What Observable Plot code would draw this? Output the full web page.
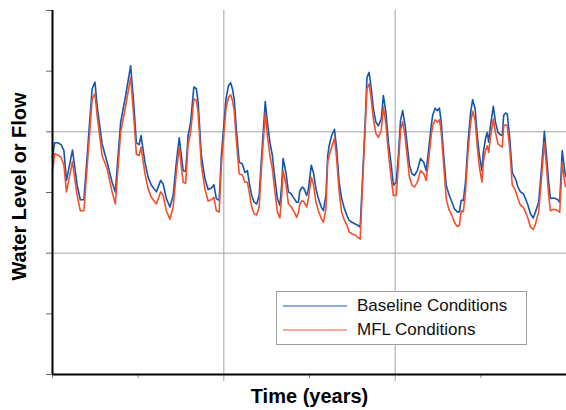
<!DOCTYPE html>
<html>
<head>
<meta charset="utf-8">
<script src="https://cdn.jsdelivr.net/npm/d3@7"></script>
<script src="https://cdn.jsdelivr.net/npm/@observablehq/plot@0.6"></script>
<style>
  html, body { margin: 0; padding: 0; background: #fff; }
  #wrap { position: relative; width: 566px; height: 410px; font-family: "Liberation Sans", Arial, Helvetica, sans-serif; }
  #legend { position: absolute; left: 276px; top: 291px; width: 251px; height: 54px; border: 1px solid #a0a0a0; background: #fff; box-sizing: border-box; }
  .row { position: absolute; left: 0; height: 22px; display: flex; align-items: center; font-size: 17px; color: #111; }
  .row svg { margin-left: 6px; margin-right: 10px; }
</style>
</head>
<body>
<div id="wrap"></div>
<script>
// Time (months since start) of each sampled point
const month = [0,0.6,1.5,2.4,3.2,3.9,5.6,6.9,7.8,8.8,
  11.1,11.9,12.5,13.9,15.3,16.7,17.6,19.1,20.5,21.9,
  22.8,23.5,24.3,24.8,25.9,26.8,27.7,29.1,30.3,31.0,
  31.9,32.9,33.8,34.7,35.5,36.1,36.6,37.3,38.0,38.7,
  39.6,40.3,40.8,41.7,42.7,43.6,44.5,45.2,45.9,46.7,
  47.3,48.6,49.3,49.9,50.4,50.9,51.5,52.3,53.2,53.9,
  54.6,55.1,55.8,56.5,57.2,57.9,58.6,59.6,60.2,60.9,
  61.6,62.1,63.0,63.7,64.2,64.6,65.4,66.1,66.8,67.7,
  68.4,68.9,69.3,70.0,70.5,71.2,71.7,72.5,73.1,73.8,
  74.5,75.3,75.9,76.6,77.1,77.5,78.2,79.0,79.6,80.3,
  81.0,81.8,82.5,83.1,83.9,84.8,85.5,86.2,86.8,87.6,
  88.1,88.7,89.3,89.9,90.6,91.3,92.1,92.7,93.4,94.1,
  94.9,95.5,96.3,96.9,97.5,98.1,98.8,99.4,100.0,100.7,
  101.4,102.2,103.1,104.0,104.7,105.3,106.1,106.5,107.2,107.8,
  108.4,108.9,109.6,110.3,111.0,111.9,112.6,113.4,114.0,114.5,
  115.1,115.7,116.4,117.1,117.7,118.4,119.0,119.6,120.3,120.7,
  121.3,121.8,122.2,122.7,123.5,124.1,124.8,125.5,126.0,126.4,
  126.9,127.4,128.1,128.8,129.2,129.7,130.4,131.1,131.9,132.5,
  133.2,133.9,134.7,135.3,136.2,136.9,137.5,137.8,138.4,139.0,
  139.5,140.3,140.9,141.6,142.1,142.8,143.3,143.7,144.0];

// Baseline Conditions
const baseline = [35.8,38.2,38.2,37.9,36.9,32.0,37.0,31.2,28.8,28.8,
  47.1,48.2,44.3,38.0,35.0,31.7,30.1,41.6,46.0,50.9,
  44.3,38.2,37.9,39.4,35.0,32.5,31.2,30.1,32.0,31.4,
  29.0,27.6,29.5,35.0,39.0,36.1,33.6,33.5,39.4,41.6,
  47.4,47.1,44.9,36.1,32.3,30.5,30.7,31.3,29.0,28.7,
  36.1,45.4,47.6,48.1,47.1,45.4,40.5,35.0,34.7,33.3,
  33.6,31.7,29.5,28.4,28.1,29.5,36.1,45.0,41.6,38.3,
  36.1,33.3,29.0,27.9,31.2,35.6,33.3,30.1,29.8,29.0,
  28.4,28.4,30.3,30.9,30.6,29.5,30.6,34.5,33.3,30.6,
  29.0,27.6,27.0,29.5,36.1,37.7,39.4,40.4,37.2,31.7,
  29.0,27.3,26.2,25.4,25.1,24.8,24.6,24.3,31.7,41.6,
  49.0,49.8,47.1,43.8,41.6,41.0,42.1,46.0,43.2,38.3,
  34.5,31.2,31.7,36.1,41.9,43.5,41.0,37.7,34.5,33.1,
  32.8,33.6,35.6,35.0,33.6,36.6,41.0,42.7,43.9,43.5,
  43.9,41.6,36.1,31.2,29.8,28.4,27.3,26.8,26.8,28.7,
  28.7,31.7,38.3,43.0,45.3,43.8,39.4,36.1,33.6,36.6,
  38.9,39.9,38.3,41.0,44.2,41.6,39.9,39.5,39.4,42.7,
  43.1,43.0,38.9,33.3,32.8,32.3,30.9,30.1,29.8,29.0,
  27.9,26.5,25.8,26.8,28.4,33.3,37.7,40.1,36.1,31.7,
  29.0,29.1,29.0,28.8,28.4,36.9,34.5,32.8,32.5];

// MFL Conditions
const mfl = [33.6,36.4,36.2,35.8,34.5,30.1,35.1,29.5,27.0,27.0,
  45.4,46.3,42.7,36.1,33.9,30.1,28.1,39.9,44.3,49.0,
  42.2,36.3,36.1,37.5,33.1,30.6,29.2,28.1,30.1,29.5,
  27.0,25.6,27.6,33.3,37.5,34.2,31.7,31.5,38.0,39.9,
  45.4,45.2,43.2,34.5,30.6,28.6,28.8,29.2,27.0,26.8,
  34.5,43.8,45.7,46.1,45.2,43.5,38.6,33.1,32.9,31.7,
  31.7,30.1,27.6,26.5,26.3,27.6,34.5,43.1,39.4,36.1,
  33.9,31.2,26.8,25.8,29.5,33.6,31.4,28.1,27.7,26.8,
  25.9,26.7,28.1,28.7,28.4,27.6,29.0,32.5,31.4,28.4,
  27.0,25.7,25.1,27.3,35.0,36.1,37.5,38.9,35.6,30.1,
  26.8,25.4,24.6,23.5,23.2,23.0,22.6,22.3,30.6,40.5,
  47.1,47.9,45.4,42.1,39.7,39.1,40.2,44.1,41.3,36.6,
  32.3,29.5,29.5,34.5,40.2,41.7,39.1,35.8,32.5,31.2,
  30.9,31.7,33.6,33.1,32.0,35.0,39.4,41.0,42.0,41.6,
  42.0,39.9,34.5,29.0,27.3,26.2,25.1,24.4,24.6,27.0,
  26.8,30.1,36.6,41.3,43.4,41.9,37.5,34.2,31.7,35.0,
  36.9,37.7,36.6,39.1,42.1,39.9,38.0,37.7,37.5,40.9,
  41.2,41.0,37.2,31.2,30.9,30.3,29.0,27.9,27.6,26.8,
  25.7,24.3,23.9,24.8,26.8,31.7,36.1,38.2,34.2,29.5,
  27.0,27.2,27.2,27.0,26.7,34.9,32.5,31.0,30.9];

const xTicks = [0, 24, 48, 72, 96, 120, 144];
const xGrid = [48, 96];
const yTicks = [0, 10, 20, 30, 40, 50, 60];
const yGrid = [20, 40];
const seriesNames = ["Baseline Conditions", "MFL Conditions"];
const seriesColors = ["#1655ad", "#f2502c"];

const n = Math.min(month.length, baseline.length, mfl.length);
const rows = [];
for (let i = 0; i < n; i++) {
  rows.push({month: month[i], value: baseline[i], series: seriesNames[0]});
}
for (let i = 0; i < n; i++) {
  rows.push({month: month[i], value: mfl[i], series: seriesNames[1]});
}

const chart = Plot.plot({
  width: 566,
  height: 410,
  marginLeft: 52,
  marginRight: 0,
  marginTop: 10,
  marginBottom: 36,
  style: {fontFamily: '"Liberation Sans", Arial, Helvetica, sans-serif', background: "#fff", overflow: "visible"},
  x: {domain: [0, 144], axis: null},
  y: {domain: [0, 60], axis: null},
  color: {domain: seriesNames, range: seriesColors},
  marks: [
    Plot.ruleX(xGrid, {stroke: "#a3a3a3", strokeWidth: 1, y1: 0, y2: 60}),
    Plot.ruleY(yGrid, {stroke: "#a3a3a3", strokeWidth: 1, x1: 0, x2: 144}),
    Plot.axisX({ticks: xTicks.filter(t => !xGrid.includes(t)), tickSize: 4, tickFormat: () => "", label: null, stroke: "#8a8a8a"}),
    Plot.axisX({ticks: xGrid, tickSize: 7, tickFormat: () => "", label: null, stroke: "#a3a3a3"}),
    Plot.axisY({ticks: yTicks, tickSize: 6, tickFormat: () => "", label: null, stroke: "#666"}),
    Plot.line(rows, {x: "month", y: "value", z: "series", stroke: "series", strokeWidth: 1.6}),
    Plot.ruleX([0], {stroke: "#000", strokeWidth: 2, y1: 0, y2: 60}),
    Plot.ruleY([0], {stroke: "#000", strokeWidth: 2, x1: 0, x2: 144}),
    Plot.text(["Time (years)"], {text: d => d, frameAnchor: "bottom", dy: 22, textAnchor: "middle", lineAnchor: "middle", fontSize: 20, fontWeight: "bold", fill: "#000"}),
    Plot.text(["Water Level or Flow"], {text: d => d, frameAnchor: "left", rotate: -90, dx: -33, dy: -6, textAnchor: "middle", lineAnchor: "middle", fontSize: 20, fontWeight: "bold", fill: "#000"})
  ]
});

const wrap = document.getElementById("wrap");
wrap.appendChild(chart);

// Legend (inside the plot area, lower right)
const legend = document.createElement("div");
legend.id = "legend";
seriesNames.forEach((name, i) => {
  const row = document.createElement("div");
  row.className = "row";
  row.style.top = (3 + i * 23.5) + "px";
  row.innerHTML = `<svg width="64" height="4"><line x1="0" x2="64" y1="2" y2="2" stroke="${seriesColors[i]}" stroke-opacity="0.65" stroke-width="1.5"/></svg><span>${name}</span>`;
  legend.appendChild(row);
});
wrap.appendChild(legend);
</script>
</body>
</html>
